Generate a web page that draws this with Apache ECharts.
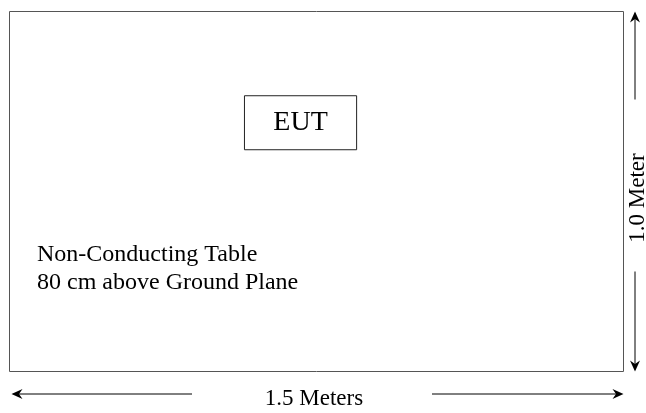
<!DOCTYPE html>
<html><head><meta charset="utf-8">
<script src="https://cdn.jsdelivr.net/npm/echarts@6/dist/echarts.min.js"></script>
<style>html,body{margin:0;padding:0;background:#fff}#c{width:646px;height:413px}</style>
</head><body><div id="c"></div>
<script>
// Table extent in meters
const tableWidth = 1.5;
const tableDepth = 1.0;
const tableOutline = [[0, 0], [1.5, 0], [1.5, 1.0], [0, 1.0], [0, 0]];
const eutBox = [[0.574, 0.616], [0.848, 0.616], [0.848, 0.766], [0.574, 0.766], [0.574, 0.616]];
const eutLabel = 'EUT';
const tableLabels = ['Non-Conducting Table', '80 cm above Ground Plane'];
const widthLabel = '1.5 Meters';
const depthLabel = '1.0 Meter';

const FONT = "'Liberation Serif','Times New Roman',serif";
const chart = echarts.init(document.getElementById('c'), null, {renderer: 'canvas'});

chart.setOption({
  animation: false,
  grid: {left: 9.5, right: 22.5, top: 11.5, bottom: 41.5, containLabel: false},
  xAxis: {type: 'value', min: 0, max: tableWidth, show: false},
  yAxis: {type: 'value', min: 0, max: tableDepth, show: false},
  series: [
    {type: 'line', data: tableOutline, symbol: 'none', silent: true,
     lineStyle: {color: '#555', width: 1}},
    {type: 'line', data: eutBox, symbol: 'none', silent: true,
     lineStyle: {color: '#222', width: 1}}
  ]
});

const p00 = chart.convertToPixel({gridIndex: 0}, [0, 0]);
const p11 = chart.convertToPixel({gridIndex: 0}, [tableWidth, tableDepth]);
const eA = chart.convertToPixel({gridIndex: 0}, [eutBox[0][0], eutBox[0][1]]);
const eB = chart.convertToPixel({gridIndex: 0}, [eutBox[2][0], eutBox[2][1]]);

const L = p00[0], R = p11[0], T = p11[1], B = p00[1];
const ax = R + 11.5;     // vertical arrow x
const ay = B + 22.5;     // horizontal arrow y
const lineStyle = {stroke: '#000', lineWidth: 1};

function head(tip, dir) {
  const len = 11, hw = 5, notch = 7.5;
  let pts;
  const [x, y] = tip;
  if (dir === 'up') pts = [[x, y], [x + hw, y + len], [x, y + notch], [x - hw, y + len]];
  if (dir === 'down') pts = [[x, y], [x + hw, y - len], [x, y - notch], [x - hw, y - len]];
  if (dir === 'left') pts = [[x, y], [x + len, y - hw], [x + notch, y], [x + len, y + hw]];
  if (dir === 'right') pts = [[x, y], [x - len, y - hw], [x - notch, y], [x - len, y + hw]];
  return {type: 'polygon', shape: {points: pts}, style: {fill: '#000'}};
}

chart.setOption({
  graphic: [
    // vertical dimension
    {type: 'line', shape: {x1: ax, y1: T + 2, x2: ax, y2: T + 88}, style: lineStyle},
    {type: 'line', shape: {x1: ax, y1: B - 100, x2: ax, y2: B - 2}, style: lineStyle},
    head([ax, T], 'up'), head([ax, B], 'down'),
    {type: 'text', x: 638, y: 198, rotation: Math.PI / 2,
     style: {text: depthLabel, font: '23px ' + FONT, fill: '#000', align: 'center', verticalAlign: 'middle'}},
    // horizontal dimension
    {type: 'line', shape: {x1: L + 4, y1: ay, x2: 192, y2: ay}, style: lineStyle},
    {type: 'line', shape: {x1: 432, y1: ay, x2: R - 4, y2: ay}, style: lineStyle},
    head([L + 2, ay], 'left'), head([R, ay], 'right'),
    {type: 'text', x: 314, y: 399,
     style: {text: widthLabel, font: '23px ' + FONT, fill: '#000', align: 'center', verticalAlign: 'middle'}},
    // EUT label
    {type: 'text', x: (eA[0] + eB[0]) / 2, y: (eA[1] + eB[1]) / 2,
     style: {text: eutLabel, font: '28px ' + FONT, fill: '#000', align: 'center', verticalAlign: 'middle'}},
    // table labels
    {type: 'text', x: 37, y: 255,
     style: {text: tableLabels[0], font: '24px ' + FONT, fill: '#000', align: 'left', verticalAlign: 'middle'}},
    {type: 'text', x: 37, y: 283,
     style: {text: tableLabels[1], font: '24px ' + FONT, fill: '#000', align: 'left', verticalAlign: 'middle'}}
  ]
});
</script></body></html>
